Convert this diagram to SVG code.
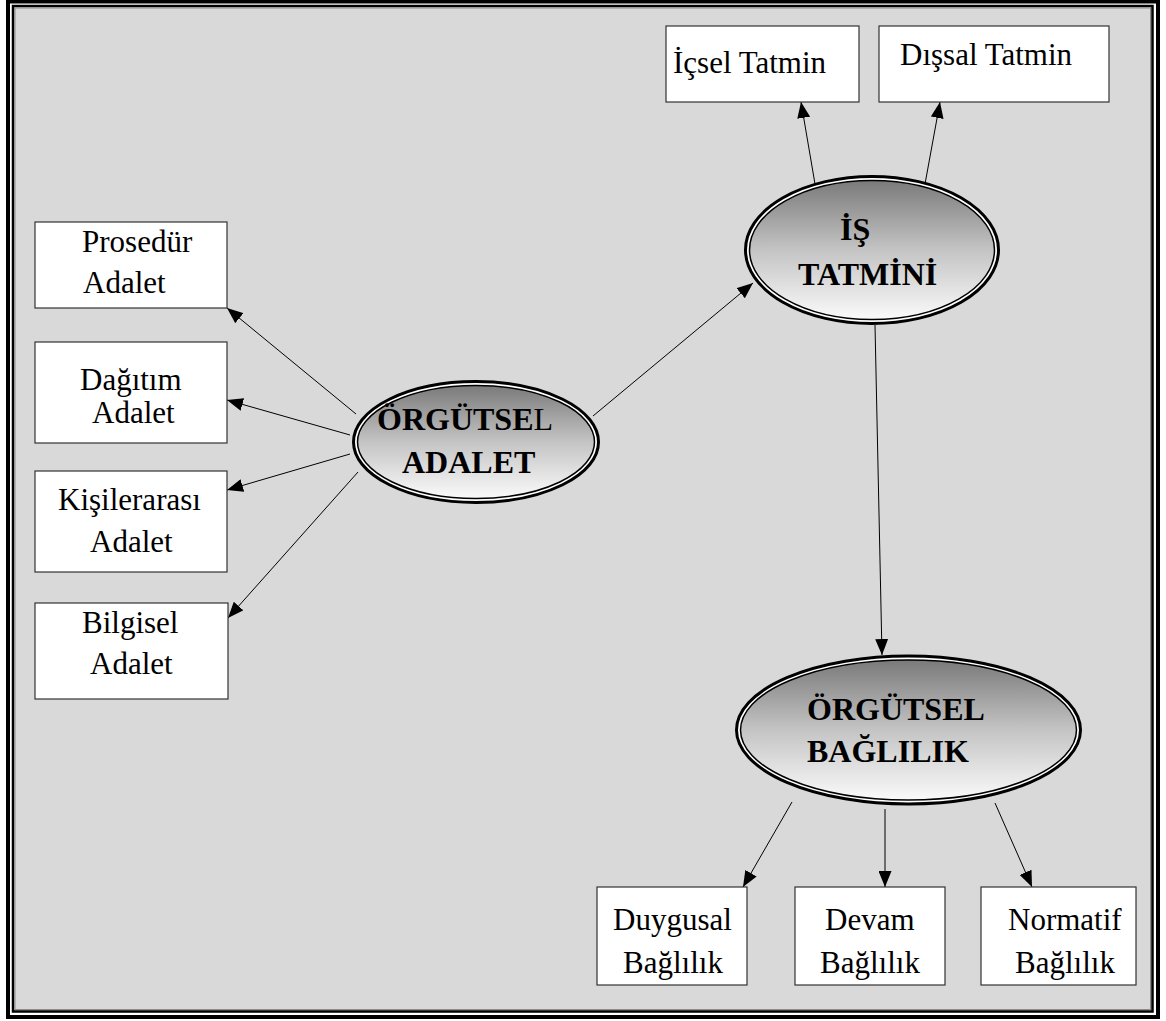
<svg xmlns="http://www.w3.org/2000/svg" width="1166" height="1021" viewBox="0 0 1166 1021">
  <defs>
    <linearGradient id="shade" x1="0" y1="0" x2="0" y2="1">
      <stop offset="0" stop-color="#7a7a7a"/>
      <stop offset="0.5" stop-color="#c4c4c4"/>
      <stop offset="1" stop-color="#fafafa"/>
    </linearGradient>
    <marker id="arrow" markerUnits="userSpaceOnUse" markerWidth="17" markerHeight="13" refX="16" refY="6.5" orient="auto">
      <path d="M0,0 L16,6.5 L0,13 z" fill="#000"/>
    </marker>
    <style>
      .box { fill: #fff; stroke: #333; stroke-width: 1.2; }
      .lbl { font-family: "Liberation Serif", "Times New Roman", serif; font-size: 31px; fill: #000; }
      .hd { font-family: "Liberation Serif", "Times New Roman", serif; font-size: 32px; font-weight: bold; fill: #000; }
      .ring { fill: #fff; stroke: #000; stroke-width: 3; }
      .core { fill: url(#shade); stroke: #000; stroke-width: 1.5; }
      .conn line { stroke: #000; stroke-width: 1; marker-end: url(#arrow); }
    </style>
  </defs>

  <!-- page frame: double border -->
  <rect x="0" y="0" width="1166" height="1021" fill="#fff"/>
  <rect x="8" y="1.5" width="1150" height="1015.5" fill="#fff" stroke="#000" stroke-width="4"/>
  <rect x="13" y="6" width="1139.5" height="1005.5" fill="#d9d9d9" stroke="#000" stroke-width="2.5"/>
  <rect x="15" y="8" width="1135.5" height="1001.5" fill="none" stroke="#8a8a8a" stroke-width="1"/>

  <!-- connectors -->
  <g id="connectors" class="conn">
    <line x1="356" y1="414" x2="227" y2="308"/>
    <line x1="350" y1="435" x2="227" y2="400"/>
    <line x1="350" y1="454" x2="227" y2="490"/>
    <line x1="358" y1="472" x2="228" y2="618"/>
    <line x1="593" y1="416" x2="753" y2="283"/>
    <line x1="815" y1="184" x2="801" y2="102"/>
    <line x1="925" y1="184" x2="940" y2="102"/>
    <line x1="875" y1="325" x2="882" y2="655"/>
    <line x1="792" y1="802" x2="743" y2="887"/>
    <line x1="885" y1="809" x2="885" y2="887"/>
    <line x1="995" y1="803" x2="1032" y2="887"/>
  </g>

  <!-- central constructs -->
  <g id="orgutsel-adalet">
    <ellipse class="ring" cx="476" cy="442" rx="122.5" ry="60.5"/>
    <ellipse class="core" cx="476" cy="442" rx="118.5" ry="56.5"/>
    <text class="hd" x="377" y="430">ÖRGÜTSE<tspan font-weight="normal">L</tspan></text>
    <text class="hd" x="402" y="473">ADALET</text>
  </g>

  <g id="is-tatmini">
    <ellipse class="ring" cx="872" cy="250" rx="126.5" ry="73.5"/>
    <ellipse class="core" cx="872" cy="250" rx="122.5" ry="69.5"/>
    <text class="hd" x="840" y="240">İŞ</text>
    <text class="hd" x="798" y="285">TATMİNİ</text>
  </g>

  <g id="orgutsel-baglilik">
    <ellipse class="ring" cx="908.5" cy="730" rx="172" ry="74"/>
    <ellipse class="core" cx="908.5" cy="730" rx="168" ry="70"/>
    <text class="hd" x="807" y="720">ÖRGÜTSEL</text>
    <text class="hd" x="807" y="762">BAĞLILIK</text>
  </g>

  <!-- justice dimensions -->
  <g id="prosedur-adalet">
    <rect class="box" x="35" y="222" width="192" height="86"/>
    <text class="lbl" x="82" y="252">Prosedür</text>
    <text class="lbl" x="83" y="293">Adalet</text>
  </g>
  <g id="dagitim-adalet">
    <rect class="box" x="35" y="342" width="192" height="101"/>
    <text class="lbl" x="80" y="390">Dağıtım</text>
    <text class="lbl" x="92" y="423">Adalet</text>
  </g>
  <g id="kisilerarasi-adalet">
    <rect class="box" x="35" y="471" width="192" height="101"/>
    <text class="lbl" x="58" y="510">Kişilerarası</text>
    <text class="lbl" x="90" y="552">Adalet</text>
  </g>
  <g id="bilgisel-adalet">
    <rect class="box" x="35" y="603" width="193" height="96" stroke="#000" stroke-width="2"/>
    <text class="lbl" x="82" y="633">Bilgisel</text>
    <text class="lbl" x="90" y="674">Adalet</text>
  </g>

  <!-- satisfaction dimensions -->
  <g id="icsel-tatmin">
    <rect class="box" x="666" y="26" width="193" height="76"/>
    <text class="lbl" x="673" y="73">İçsel Tatmin</text>
  </g>
  <g id="dissal-tatmin">
    <rect class="box" x="879" y="26" width="230" height="76" stroke="#000" stroke-width="1.6"/>
    <text class="lbl" x="900" y="65">Dışsal Tatmin</text>
  </g>

  <!-- commitment dimensions -->
  <g id="duygusal-baglilik">
    <rect class="box" x="597" y="887" width="150" height="98"/>
    <text class="lbl" x="613" y="930">Duygusal</text>
    <text class="lbl" x="623" y="973">Bağlılık</text>
  </g>
  <g id="devam-baglilik">
    <rect class="box" x="795" y="887" width="150" height="98"/>
    <text class="lbl" x="825" y="930">Devam</text>
    <text class="lbl" x="820" y="973">Bağlılık</text>
  </g>
  <g id="normatif-baglilik">
    <rect class="box" x="981" y="887" width="155" height="98"/>
    <text class="lbl" x="1008" y="930">Normatif</text>
    <text class="lbl" x="1015" y="973">Bağlılık</text>
  </g>
</svg>
